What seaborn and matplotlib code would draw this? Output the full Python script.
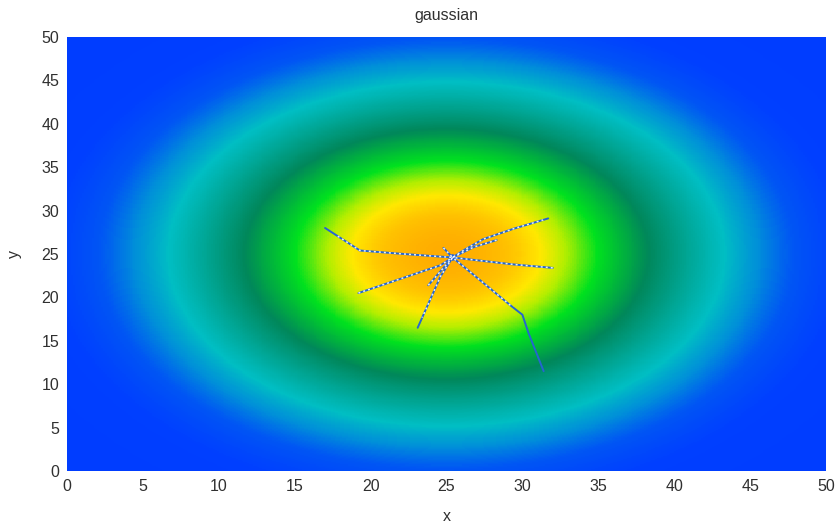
import numpy as np
import pandas as pd
import matplotlib
matplotlib.use("Agg")
import matplotlib.pyplot as plt
from matplotlib.colors import LinearSegmentedColormap
from matplotlib.patches import Ellipse
import seaborn as sns

sns.set_theme(style="white")
plt.rcParams['font.family'] = ['Liberation Sans', 'DejaVu Sans']

# Gaussian surface
center_x, center_y = 25.0, 25.0
sigma_x, sigma_y = 12.0, 13.0
grid_n = 400
axis_min, axis_max = 0, 50
tick_values = [0, 5, 10, 15, 20, 25, 30, 35, 40, 45, 50]

# colour scale of the surface (value -> colour)
cmap_stops = [0.0, 0.09, 0.16, 0.23, 0.31, 0.54, 0.71, 0.81, 0.875, 0.94, 1.0]
cmap_colors = ["#003cff", "#003fff", "#0055f4", "#0090d8", "#00bec3",
               "#00875a", "#00e11e", "#b4ee00", "#ffe800", "#ffc300", "#ffad00"]

# search trajectories converging on the peak
path_a_x = [17.0, 19.3, 22.2, 25.4]
path_a_y = [28.0, 25.4, 25.0, 24.6]
path_b_x = [31.7, 29.4, 27.4, 26.2, 25.4]
path_b_y = [29.1, 27.9, 26.7, 25.5, 24.6]
path_c_x = [32.0, 29.4, 25.4]
path_c_y = [23.4, 23.8, 24.6]
path_d_x = [19.2, 24.6, 25.4]
path_d_y = [20.5, 23.7, 24.6]
path_e_x = [23.1, 24.6, 25.4]
path_e_y = [16.5, 22.4, 24.6]
path_f_x = [31.4, 30.4, 30.0, 29.2, 27.2, 25.4]
path_f_y = [11.5, 15.9, 18.0, 19.1, 22.0, 24.6]
path_g_x = [23.8, 25.4]
path_g_y = [21.4, 24.6]
path_h_x = [24.8, 25.4]
path_h_y = [25.7, 24.6]
path_i_x = [28.3, 26.8, 25.4]
path_i_y = [26.6, 25.8, 24.6]

paths = {"a": (path_a_x, path_a_y), "b": (path_b_x, path_b_y),
         "c": (path_c_x, path_c_y), "d": (path_d_x, path_d_y),
         "e": (path_e_x, path_e_y), "f": (path_f_x, path_f_y),
         "g": (path_g_x, path_g_y), "h": (path_h_x, path_h_y),
         "i": (path_i_x, path_i_y)}
track = pd.concat([pd.DataFrame({"path": k, "x": v[0], "y": v[1]})
                   for k, v in paths.items()], ignore_index=True)

gx = np.linspace(axis_min, axis_max, grid_n)
gy = np.linspace(axis_max, axis_min, grid_n)  # top row first for the heatmap
XX, YY = np.meshgrid(gx, gy)
surface = np.exp(-((XX - center_x) ** 2 / (2 * sigma_x ** 2)
                   + (YY - center_y) ** 2 / (2 * sigma_y ** 2)))

cmap = LinearSegmentedColormap.from_list("gauss", list(zip(cmap_stops, cmap_colors)))

fig = plt.figure(figsize=(8.38, 5.27), dpi=100)
rect = [67 / 838, 1 - 471 / 527, 759 / 838, 434 / 527]

# surface layer
ax_bg = fig.add_axes(rect)
sns.heatmap(surface, ax=ax_bg, cmap=cmap, vmin=0, vmax=1, cbar=False,
            xticklabels=False, yticklabels=False, rasterized=True)
ax_bg.set_axis_off()

# coordinate layer with the trajectories
ax = fig.add_axes(rect)
ax.patch.set_alpha(0)
sns.lineplot(data=track, x="x", y="y", units="path", estimator=None, sort=False,
             color="#2566d0", lw=1.4, ax=ax)
sns.lineplot(data=track, x="x", y="y", units="path", estimator=None, sort=False,
             color="#ffffff", lw=1.1, linestyle=(0, (1.3, 2.0)), alpha=0.9, ax=ax)
clip = Ellipse((center_x, center_y), 15.0, 15.0, transform=ax.transData,
               facecolor="none", edgecolor="none")
ax.add_patch(clip)
for ln in ax.lines[len(paths):]:
    ln.set_clip_path(clip)
sns.scatterplot(x=[path_a_x[-1]], y=[path_a_y[-1]], color="#1f5fe0", s=22,
                edgecolor="none", ax=ax)

ax.set_xlim(axis_min, axis_max)
ax.set_ylim(axis_min, axis_max)
ax.set_xticks(tick_values)
ax.set_yticks(tick_values)
ax.tick_params(length=0, labelsize=11.5, colors="#303030", pad=5.5)
for s in ax.spines.values():
    s.set_visible(False)
ax.set_xlabel("x", fontsize=11.5, color="#303030", labelpad=11)
ax.set_ylabel("y", fontsize=11.5, color="#303030", labelpad=14)
ax.set_title("gaussian", fontsize=11.5, color="#303030", pad=12)

fig.savefig("out.png", dpi=100)
